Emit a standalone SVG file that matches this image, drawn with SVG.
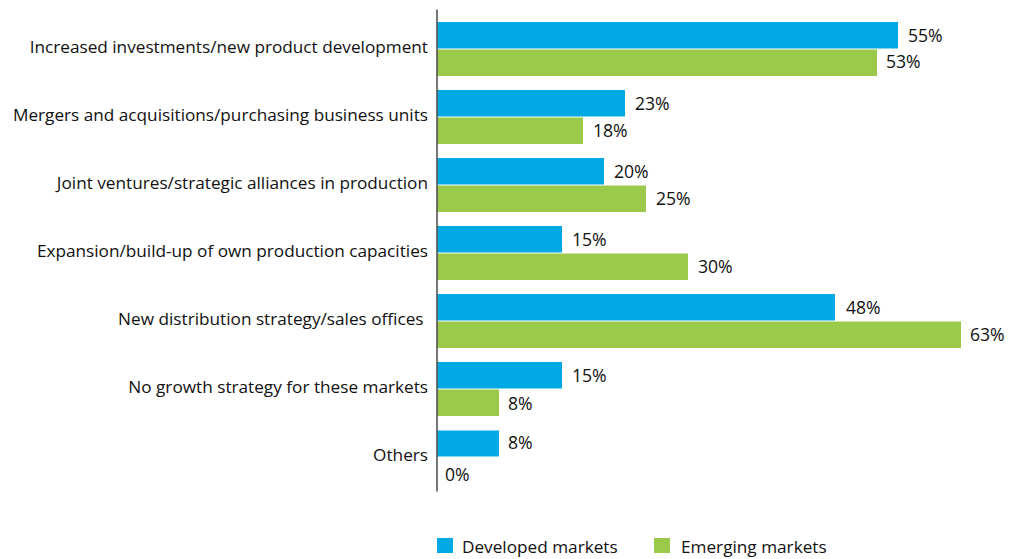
<svg xmlns="http://www.w3.org/2000/svg" width="1024" height="559" viewBox="0 0 1024 559">
<style>
text{font-family:"Open Sans","Noto Sans","Liberation Sans",sans-serif;font-size:17.2px;fill:#111111}
.cat{text-anchor:end}
.pct{font-size:17.6px}
.dev{fill:#00a9e4}
.emg{fill:#9bca4b}
.axis{stroke:#1a1a1a;stroke-width:1.2}
</style>
<rect width="1024" height="559" fill="#ffffff"/>
<g id="bars">
<g id="g0">
<text class="cat" x="428" y="53">Increased investments/new product development</text>
<rect class="dev" x="437.5" y="22" width="460.5" height="26.5"/>
<rect class="emg" x="437.5" y="49.5" width="439.5" height="26.5"/>
<text class="pct" x="908" y="42">55%</text>
<text class="pct" x="886" y="68">53%</text>
</g>
<g id="g1">
<text class="cat" x="428" y="121">Mergers and acquisitions/purchasing business units</text>
<rect class="dev" x="437.5" y="90" width="187.5" height="26.5"/>
<rect class="emg" x="437.5" y="117.5" width="145.5" height="26.5"/>
<text class="pct" x="635" y="110">23%</text>
<text class="pct" x="593" y="137">18%</text>
</g>
<g id="g2">
<text class="cat" x="428" y="189">Joint ventures/strategic alliances in production</text>
<rect class="dev" x="437.5" y="158" width="166.5" height="26.5"/>
<rect class="emg" x="437.5" y="185.5" width="208.5" height="26.5"/>
<text class="pct" x="614" y="178">20%</text>
<text class="pct" x="656" y="205">25%</text>
</g>
<g id="g3">
<text class="cat" x="428" y="257">Expansion/build-up of own production capacities</text>
<rect class="dev" x="437.5" y="226" width="124.5" height="26.5"/>
<rect class="emg" x="437.5" y="253.5" width="250.5" height="26.5"/>
<text class="pct" x="572" y="246">15%</text>
<text class="pct" x="698" y="273">30%</text>
</g>
<g id="g4">
<text class="cat" x="423.5" y="325">New distribution strategy/sales offices</text>
<rect class="dev" x="437.5" y="294" width="397.5" height="26.5"/>
<rect class="emg" x="437.5" y="321.5" width="523.5" height="26.5"/>
<text class="pct" x="846" y="314">48%</text>
<text class="pct" x="970" y="341">63%</text>
</g>
<g id="g5">
<text class="cat" x="428" y="393">No growth strategy for these markets</text>
<rect class="dev" x="437.5" y="362" width="124.5" height="26.5"/>
<rect class="emg" x="437.5" y="389.5" width="61.5" height="26.5"/>
<text class="pct" x="572" y="382">15%</text>
<text class="pct" x="508" y="410">8%</text>
</g>
<g id="g6">
<text class="cat" x="428" y="461">Others</text>
<rect class="dev" x="437.5" y="430.5" width="61.5" height="26"/>
<text class="pct" x="508" y="449">8%</text>
<text class="pct" x="445" y="481">0%</text>
</g>
</g>
<g id="connectors">
<line class="axis" x1="437" y1="9.5" x2="437" y2="491.5"/>
</g>
<g id="legend">
<rect class="dev" x="437" y="538" width="16" height="15"/>
<text x="462" y="553">Developed markets</text>
<rect class="emg" x="654" y="538" width="16" height="15"/>
<text x="681" y="553">Emerging markets</text>
</g>
</svg>
